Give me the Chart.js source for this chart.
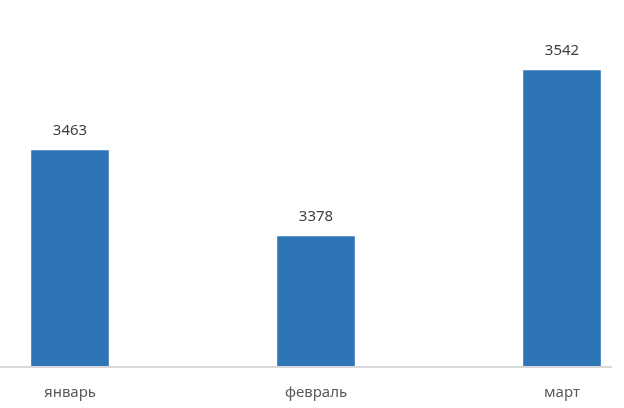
<!DOCTYPE html>
<html>
<head>
<meta charset="utf-8">
<script src="https://cdn.jsdelivr.net/npm/chart.js@4"></script>
<style>
html,body{margin:0;padding:0;background:#fff;}
#wrap{width:624px;height:408px;}
</style>
</head>
<body>
<div id="wrap"><canvas id="c" width="624" height="408"></canvas></div>
<script>
const categories = ['январь', 'февраль', 'март'];
const values = [3463, 3378, 3542];
const axisMin = 3250;
const axisMax = 3600;

const baselinePlugin = {
  id: 'baseline',
  afterDatasetsDraw(chart) {
    const ctx = chart.ctx;
    const y = chart.scales.y.getPixelForValue(axisMin);
    ctx.save();
    ctx.strokeStyle = '#D9D9D9';
    ctx.lineWidth = 2;
    ctx.beginPath();
    ctx.moveTo(0, y + 1);
    ctx.lineTo(chart.width - 12, y + 1);
    ctx.stroke();
    ctx.restore();
  }
};

const valueLabels = {
  id: 'valueLabels',
  afterDatasetsDraw(chart) {
    const ctx = chart.ctx;
    const meta = chart.getDatasetMeta(0);
    ctx.save();
    ctx.fillStyle = '#404040';
    ctx.font = '15px "Noto Sans", "DejaVu Sans", sans-serif';
    ctx.textAlign = 'center';
    ctx.textBaseline = 'middle';
    meta.data.forEach((bar, i) => {
      ctx.fillText(String(values[i]), bar.x, bar.y - 20);
    });
    ctx.restore();
  }
};

new Chart(document.getElementById('c'), {
  type: 'bar',
  data: {
    labels: categories,
    datasets: [{
      data: values,
      base: axisMin,
      backgroundColor: '#2E75B6',
      borderWidth: 0,
      barThickness: 77,
      clip: false
    }]
  },
  options: {
    responsive: false,
    animation: false,
    devicePixelRatio: 1,
    layout: { padding: { left: 70, right: 62, top: 12, bottom: -12 } },
    plugins: { legend: { display: false }, tooltip: { enabled: false } },
    scales: {
      x: {
        offset: false,
        grid: { display: false, drawTicks: false },
        border: { display: false },
        ticks: {
          color: '#595959',
          font: { family: '"Noto Sans", "DejaVu Sans", sans-serif', size: 15 },
          padding: 18,
          maxRotation: 0,
          autoSkip: false
        }
      },
      y: {
        display: false,
        min: axisMin,
        max: axisMax
      }
    }
  },
  plugins: [baselinePlugin, valueLabels]
});
</script>
</body>
</html>
